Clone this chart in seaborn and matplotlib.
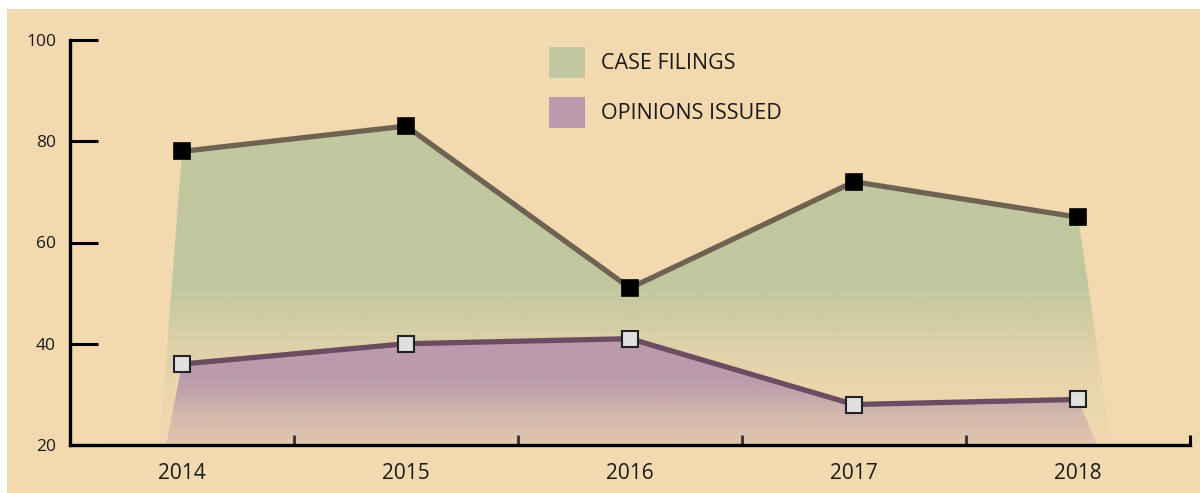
import numpy as np
import pandas as pd
import seaborn as sns
import matplotlib.pyplot as plt
from matplotlib.patches import Polygon, Rectangle, Patch

# data
years = ["2014", "2015", "2016", "2017", "2018"]
case_filings = [78, 83, 51, 72, 65]
opinions_issued = [36, 40, 41, 28, 29]
series_names = ["CASE FILINGS", "OPINIONS ISSUED"]

bg = "#F2D9B0"
green = "#C1C79F"
purple = "#BA9AAB"
green_line = "#6E6350"
purple_line = "#6B4C61"

sns.set_theme(style="white")
plt.rcParams["font.family"] = ["Open Sans", "DejaVu Sans"]

xpos = np.arange(len(years))
df = pd.DataFrame({"x": xpos, "filings": case_filings, "opinions": opinions_issued})

fig = plt.figure(figsize=(12, 4.93), dpi=100, facecolor="white")
# beige panel (small white margin top/left like the original)
fig.patches.append(Rectangle((7 / 1200, 0), 1, 1 - 9 / 493, transform=fig.transFigure,
                             facecolor=bg, edgecolor="none", zorder=-10))
ax = fig.add_axes([70 / 1200, 1 - 445 / 493, 1120 / 1200, 405 / 493])
ax.set_facecolor("none")
ymin, ymax = 20, 100
ax.set_xlim(-0.5, len(years) - 0.5)
ax.set_ylim(ymin, ymax)


def gradient_fill(ax, ys, color, stops_v, stops_a, pad_l, pad_r, z):
    # polygon under the line, widened a bit at the base
    verts = [(xpos[0] - pad_l, ymin)] + list(zip(xpos, ys)) + [(xpos[-1] + pad_r, ymin)]
    poly = Polygon(verts, closed=True, facecolor="none", edgecolor="none")
    ax.add_patch(poly)
    v = np.linspace(ymin, ymax, 500)
    a = np.interp(v, stops_v, stops_a)
    rgb = np.array(plt.matplotlib.colors.to_rgb(color))
    img = np.zeros((len(v), 1, 4))
    img[:, 0, :3] = rgb
    img[:, 0, 3] = a
    im = ax.imshow(img, extent=[-0.5, len(years) - 0.5, ymin, ymax], origin="lower",
                   aspect="auto", zorder=z, interpolation="bilinear")
    im.set_clip_path(poly)


gradient_fill(ax, case_filings, green, [20, 30, 38, 46, 52, 100],
              [0.05, 0.15, 0.35, 0.75, 1, 1], 0.1, 0.15, 1)
gradient_fill(ax, opinions_issued, purple, [20, 26, 31, 34, 100],
              [0.28, 0.5, 0.9, 1, 1], 0.07, 0.085, 2)

sns.lineplot(data=df, x="x", y="filings", ax=ax, color=green_line, linewidth=3.8,
             marker="s", markersize=12, markerfacecolor="black", markeredgecolor="black",
             markeredgewidth=1.2, zorder=3)
sns.lineplot(data=df, x="x", y="opinions", ax=ax, color=purple_line, linewidth=3.8,
             marker="s", markersize=12, markerfacecolor="#E0E0E0", markeredgecolor="#222222",
             markeredgewidth=1.5, zorder=3)

ax.set_xlabel("")
ax.set_ylabel("")
sns.despine(ax=ax)
for s in ["left", "bottom"]:
    ax.spines[s].set_color("black")
    ax.spines[s].set_linewidth(2.4)

ax.set_yticks([20, 40, 60, 80, 100])
ax.tick_params(axis="y", direction="in", length=20, width=2.2, color="black",
               labelsize=12.5, pad=10, left=True)
ax.set_xticks(xpos)
ax.set_xticklabels(years)
ax.set_xticks(np.arange(len(years)) + 0.5, minor=True)
ax.tick_params(axis="x", which="major", length=0, labelsize=15, pad=13)
ax.tick_params(axis="x", which="minor", direction="in", length=7, width=2.2,
               color="black", bottom=True)
for lbl in ax.get_xticklabels() + ax.get_yticklabels():
    lbl.set_color("#1a1a1a")

handles = [Patch(facecolor=green, edgecolor="none"), Patch(facecolor=purple, edgecolor="none")]
fig.legend(handles, series_names, loc="upper left", bbox_to_anchor=(549 / 1200, 1 - 47 / 493),
           frameon=False, fontsize=15.5, handlelength=1.67, handleheight=1.84,
           handletextpad=0.75, labelspacing=0.88, borderpad=0, borderaxespad=0,
           labelcolor="#1a1a1a")

fig.savefig("out.png", dpi=100, facecolor="white")
